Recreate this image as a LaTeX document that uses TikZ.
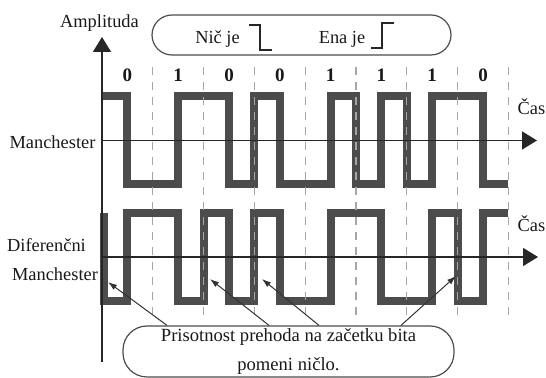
\documentclass[tikz,border=0pt]{standalone}
\usepackage{fontspec}
\setmainfont{Liberation Serif}
\usetikzlibrary{arrows.meta}

\begin{document}
\begin{tikzpicture}[x=0.5pt,y=-0.5pt,
  font=\fontsize{9.2}{11}\selectfont,
  lbl/.style={anchor=base,inner sep=0pt,text=black!90},
  bit/.style={lbl,font=\fontsize{9.5}{11}\selectfont\bfseries},
  axis/.style={line width=0.8pt,draw=black!85,-{Triangle[length=7.5pt,width=9pt]}},
  wave/.style={line width=4pt,draw=black!70,line join=miter},
  grid/.style={line width=0.6pt,draw=black!35,dash pattern=on 4pt off 3.5pt},
  edge/.style={line width=1.2pt,draw=black!85},
  pointer/.style={line width=0.5pt,draw=black!80,-{Latex[length=4.5pt,width=3pt]}},
  key/.style={draw=black!70,line width=0.6pt,rounded corners=10pt,
    minimum width=149.5pt,minimum height=20pt,inner sep=0pt},
  note/.style={draw=black!70,line width=0.6pt,rounded corners=12pt,
    minimum width=165.5pt,minimum height=25.5pt,inner sep=0pt,align=center,
    font=\fontsize{9.3}{14.5}\selectfont,text=black!90}]
\useasboundingbox (0,0) rectangle (546,378);

\path (301.5,35) node[key] (legend) {};
\path (217.5,44) node[lbl] (zero) {Nič je};
\path (342,43.5) node[lbl] (one)  {Ena je};
\draw[edge] (249,25) -- (260,25) -- (260,50) -- (272,50);
\draw[edge] (371,48) -- (382,48) -- (382,23) -- (394,23);

\path (99.5,27.5) node[lbl] (amp)  {Amplituda};
\path (52.5,149)  node[lbl] (man)  {Manchester};
\path (46.5,252)  node[lbl] (dif)  {Diferenčni};
\path (55,281)    node[lbl] (dman) {Manchester};
\path (531.5,115) node[lbl] (cas1) {Čas};
\path (531.5,232) node[lbl] (cas2) {Čas};

\path (127.4,82) node[bit] (b1) {0};
\path (178.2,82) node[bit] (b2) {1};
\path (229,82)   node[bit] (b3) {0};
\path (279.8,82) node[bit] (b4) {0};
\path (330.6,82) node[bit] (b5) {1};
\path (381.4,82) node[bit] (b6) {1};
\path (432.2,82) node[bit] (b7) {1};
\path (483,82)   node[bit] (b8) {0};

\draw[wave] (102,96) -- (127.4,96) -- (127.4,184) -- (178.2,184) -- (178.2,96)
  -- (229,96) -- (229,184) -- (254.4,184) -- (254.4,96) -- (279.8,96)
  -- (279.8,184) -- (330.6,184) -- (330.6,96) -- (356,96) -- (356,184)
  -- (381.4,184) -- (381.4,96) -- (406.8,96) -- (406.8,184) -- (432.2,184)
  -- (432.2,96) -- (483,96) -- (483,184) -- (508.4,184);
\draw[wave] (104,213) -- (104,301) -- (127.4,301) -- (127.4,213) -- (178.2,213)
  -- (178.2,301) -- (203.6,301) -- (203.6,213) -- (229,213) -- (229,301)
  -- (254.4,301) -- (254.4,213) -- (279.8,213) -- (279.8,301) -- (330.6,301)
  -- (330.6,213) -- (381.4,213) -- (381.4,301) -- (432.2,301) -- (432.2,213)
  -- (457.6,213) -- (457.6,301) -- (483,301) -- (483,213) -- (508.4,213);

\foreach \gx in {152.8,203.6,254.4,305.2,356,406.8,457.6,508.4}
  \draw[grid] (\gx,67) -- (\gx,322);

\coordinate (ybot) at (102,362);
\coordinate (ytop) at (102,37);
\coordinate (o1) at (102,140.5);
\coordinate (e1) at (537,140.5);
\coordinate (o2) at (103,257);
\coordinate (e2) at (538,257);
\draw[axis] (ybot) -- (ytop);
\draw[axis] (o1) -- (e1);
\draw[axis] (o2) -- (e2);

\path (288.5,351.5) node[note] (remark)
  {Prisotnost prehoda na začetku bita\\pomeni ničlo.};
\coordinate (hit1) at (108,282);
\coordinate (hit2) at (210,279);
\coordinate (hit3) at (262,279);
\coordinate (hit4) at (456,276);
\draw[pointer] (remark.north -| 167,0) -- (hit1);
\draw[pointer] (remark.north -| 269,0) -- (hit2);
\draw[pointer] (remark.north -| 319,0) -- (hit3);
\draw[pointer] (remark.north -| 401,0) -- (hit4);
\end{tikzpicture}
\end{document}
